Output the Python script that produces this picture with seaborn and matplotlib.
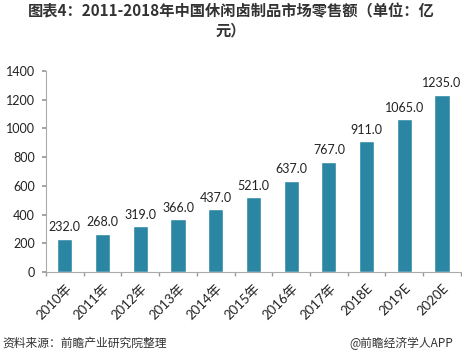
import matplotlib
matplotlib.use('Agg')
import matplotlib.pyplot as plt
import seaborn as sns
import pandas as pd
import numpy as np

years = ['2010年', '2011年', '2012年', '2013年', '2014年', '2015年',
         '2016年', '2017年', '2018E', '2019E', '2020E']
sales = [232.0, 268.0, 319.0, 366.0, 437.0, 521.0, 637.0, 767.0, 911.0, 1065.0, 1235.0]
y_ticks = [0, 200, 400, 600, 800, 1000, 1200, 1400]

title = '图表4：2011-2018年中国休闲卤制品市场零售额（单位：亿\n元）'
source = '资料来源：前瞻产业研究院整理'
credit = '@前瞻经济学人APP'

sns.set_theme(style='white')
plt.rcParams['font.family'] = ['Lato', 'Noto Sans CJK SC', 'DejaVu Sans']

df = pd.DataFrame({'year': years, 'sales': sales})

fig = plt.figure(figsize=(4.62, 3.57), dpi=100)
ax = fig.add_axes([0.0996, 0.238, 0.898, 0.563])

sns.barplot(data=df, x='year', y='sales', color='#2A86A3', width=0.40,
            saturation=1, ax=ax)
ax.bar_label(ax.containers[0], fmt='%.1f', padding=4, fontsize=9,
             color='#222222')

ax.set_ylim(0, 1400)
ax.set_xlim(-0.5, len(years) - 0.5)
ax.set_yticks(y_ticks)
ax.set_yticklabels([str(t) for t in y_ticks], fontsize=9, color='#222222')
ax.set_xlabel('')
ax.set_ylabel('')

ax.set_xticks(range(len(years)))
ax.set_xticklabels(years, rotation=45, ha='right', rotation_mode='anchor',
                   fontsize=9.5, color='#222222',
                   family=['Lato', 'Noto Sans CJK SC'])
ax.set_xticks(np.arange(-0.5, len(years), 1), minor=True)
ax.tick_params(axis='x', which='major', length=0, pad=7)
ax.tick_params(axis='x', which='minor', length=3, color='#999999', bottom=True)
ax.tick_params(axis='y', length=3, color='#999999', left=True, pad=5)

for side in ['top', 'right']:
    ax.spines[side].set_visible(False)
for side in ['left', 'bottom']:
    ax.spines[side].set_color('#AAAAAA')
    ax.spines[side].set_linewidth(0.8)

fig.text(0.5, 0.99, title, ha='center', va='top', fontsize=11,
         fontweight='bold', color='#333333', linespacing=1.2,
         family=['Noto Sans CJK SC', 'DejaVu Sans'])
fig.text(0.005, 0.02, source, ha='left', va='bottom', fontsize=8.5,
         color='#333333', family=['Noto Sans CJK SC'])
fig.text(0.98, 0.02, credit, ha='right', va='bottom', fontsize=8.5,
         color='#333333', family=['Noto Sans CJK SC'])

fig.savefig('out.png', dpi=100)
